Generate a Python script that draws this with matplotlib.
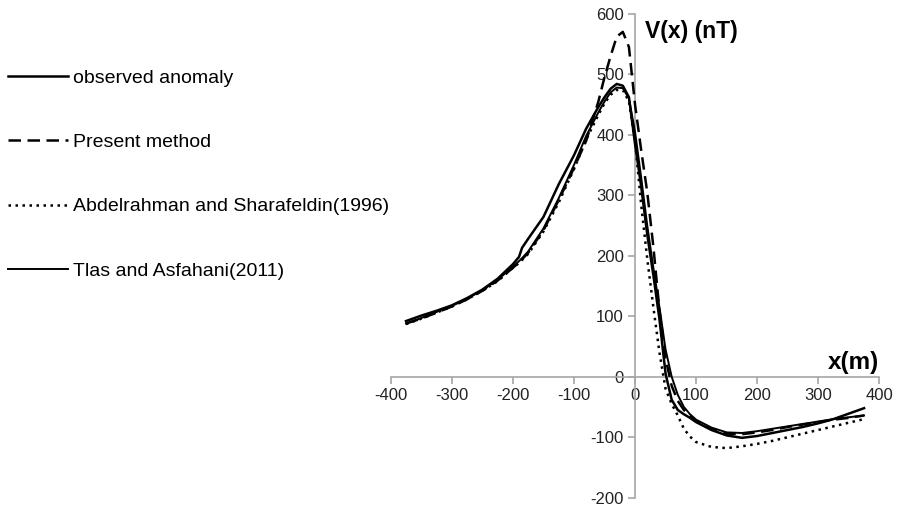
import numpy as np
import matplotlib
matplotlib.use("Agg")
import matplotlib.pyplot as plt

plt.rcParams['font.family'] = ['Liberation Sans', 'DejaVu Sans']
plt.rcParams['axes.unicode_minus'] = False

# ---- Data (x in m, V in nT) ----
x = [-375, -350, -325, -300, -275, -250, -225, -200, -190, -185, -175, -150,
     -125, -100, -80, -60, -50, -40, -30, -20, -10, 0, 10, 20, 30, 40, 50,
     60, 70, 80, 90, 100, 125, 150, 175, 200, 225, 250, 275, 300, 325, 350, 375]

observed = [92, 101, 109, 118, 130, 144, 162, 186, 198, 213, 228, 264,
            318, 366, 410, 446, 462, 476, 484, 481, 462, 385, 315, 235, 168, 95, 5,
            -38, -55, -62, -68, -75, -88, -97, -101, -98, -93, -88, -83, -77, -70, -61, -52]

present = [88, 96, 106, 116, 128, 142, 159, 180, 189, 194, 205, 242,
           292, 345, 390, 455, 495, 530, 562, 570, 545, 450, 375, 305, 215, 110, 30,
           -15, -40, -55, -65, -73, -86, -94, -95, -92, -88, -83, -79, -75, -71, -68, -64]

abdel = [87, 96, 106, 116, 128, 142, 158, 180, 188, 193, 203, 240,
         288, 343, 392, 433, 452, 466, 474, 474, 455, 390, 285, 195, 115, 40, -20,
         -45, -64, -86, -99, -108, -116, -118, -115, -111, -106, -100, -94, -88, -82, -76, -70]

tlas = [88, 97, 107, 117, 129, 143, 160, 182, 191, 196, 207, 245,
        295, 350, 398, 437, 455, 470, 478, 477, 460, 405, 330, 250, 180, 115, 45,
        0, -30, -50, -62, -71, -84, -92, -93, -90, -86, -82, -78, -74, -70, -67, -64]

xticks = [-400, -300, -200, -100, 0, 100, 200, 300, 400]
yticks = [-200, -100, 0, 100, 200, 300, 400, 500, 600]

# ---- Plot ----
fig = plt.figure(figsize=(8.97, 5.07), dpi=100)
ax = fig.add_axes([0.4356, 0.0183, 0.5447, 0.9546])

ax.plot(x, observed, color='black', lw=1.8, label='observed anomaly', zorder=3)
ax.plot(x, present, color='black', lw=1.8, ls=(0, (5, 2.6)), label='Present method', zorder=3)
ax.plot(x, abdel, color='black', lw=1.8, ls=(0, (1, 1.8)), label='Abdelrahman and Sharafeldin(1996)', zorder=3)
ax.plot(x, tlas, color='black', lw=1.4, label='Tlas and Asfahani(2011)', zorder=3)

ax.set_xlim(-400, 400)
ax.set_ylim(-200, 600)

axis_grey = '#a6a6a6'
ax.spines['left'].set_position(('data', 0))
ax.spines['bottom'].set_position(('data', 0))
ax.spines['right'].set_visible(False)
ax.spines['top'].set_visible(False)
for s in ('left', 'bottom'):
    ax.spines[s].set_color(axis_grey)
    ax.spines[s].set_linewidth(1.2)

ax.set_xticks(xticks)
ax.set_yticks(yticks)
ax.tick_params(axis='both', direction='out', length=5, width=1.2, color=axis_grey,
               labelsize=12, labelcolor='#222222')
ax.tick_params(axis='x', pad=3)
ax.tick_params(axis='y', pad=3)

ax.text(17, 590, 'V(x) (nT)', fontsize=16.5, fontweight='bold', ha='left', va='top')
ax.text(400, 5, 'x(m)', fontsize=17.5, fontweight='bold', ha='right', va='bottom')

leg = fig.legend(loc='upper left', bbox_to_anchor=(0.009, 0.8633), frameon=False,
                 fontsize=14, handlelength=3.1, handletextpad=0.26, labelspacing=2.4,
                 borderpad=0, borderaxespad=0)

plt.savefig('out.png', dpi=100)
plt.close()
